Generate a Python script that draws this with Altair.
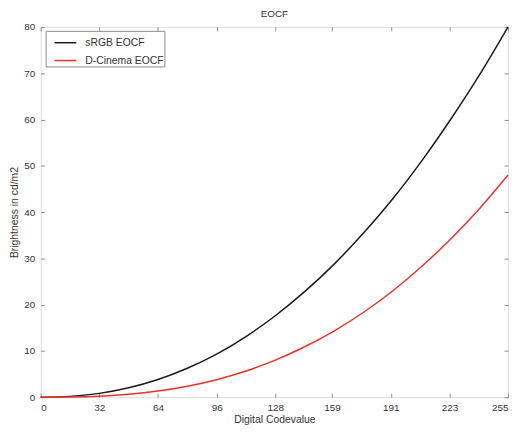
import altair as alt
import pandas as pd

codevalue = [0, 16, 32, 48, 64, 80, 96, 112, 128, 144, 160, 176, 192, 208, 224, 240, 255]
srgb = [0.0, 0.18, 0.83, 2.03, 3.82, 6.25, 9.3, 13.1, 17.6, 22.8, 28.7, 35.4, 42.8, 51.1, 60.2, 70.0, 80.0]
dcinema = [0.0, 0.04, 0.22, 0.62, 1.32, 2.36, 3.78, 5.65, 8.0, 10.9, 14.3, 18.3, 22.95, 28.3, 34.3, 41.0, 48.0]
series_names = ["sRGB EOCF", "D-Cinema EOCF"]
series_colors = ["#1a1a1a", "#e8322b"]
x_ticks = [0, 32, 64, 96, 128, 159, 191, 223, 255]
y_ticks = [0, 10, 20, 30, 40, 50, 60, 70, 80]

rows = []
for c, a, b in zip(codevalue, srgb, dcinema):
    rows.append({"code": c, "value": a, "series": series_names[0]})
    rows.append({"code": c, "value": b, "series": series_names[1]})
df = pd.DataFrame(rows)

FONT = "Liberation Sans"
TXT = "#333333"
AX = "#8a8a8a"

common_axis = dict(
    domain=False, tickColor=AX, tickSize=4, offset=-4, grid=False,
    labelFont=FONT, labelFontSize=10, labelColor=TXT,
    titleFont=FONT, titleFontSize=10.5, titleColor=TXT, titleFontWeight="normal",
)

xs = alt.Scale(domain=[0, 255], nice=False, zero=False)
ys = alt.Scale(domain=[0, 80], nice=False)
cs = alt.Scale(domain=series_names, range=series_colors)

lines = alt.Chart(df).mark_line(strokeWidth=1.5, interpolate="monotone").encode(
    x=alt.X("code:Q", scale=xs,
            axis=alt.Axis(values=x_ticks, title="Digital Codevalue", orient="bottom",
                          labelPadding=5, titlePadding=3, **common_axis)),
    y=alt.Y("value:Q", scale=ys,
            axis=alt.Axis(values=y_ticks, title="Brightness in cd/m2", orient="left",
                          labelPadding=6, titlePadding=4, **common_axis)),
    color=alt.Color("series:N", scale=cs, sort=series_names,
                    legend=alt.Legend(title=None, orient="none", legendX=5, legendY=4,
                                      symbolType="stroke", symbolSize=484, symbolStrokeWidth=1.5,
                                      symbolOffset=8, labelOffset=8,
                                      labelExpr="datum.label + '\u00a0\u00a0\u00a0'",
                                      labelFont=FONT, labelFontSize=10.5, labelColor=TXT,
                                      padding=0, rowPadding=-12,
                                      strokeColor=AX, fillColor="white")),
)

frame = alt.Chart(df).mark_line(opacity=0).encode(
    x=alt.X("code:Q", scale=xs,
            axis=alt.Axis(values=x_ticks, title=None, orient="top", labels=False, **common_axis)),
    y=alt.Y("value:Q", scale=ys,
            axis=alt.Axis(values=y_ticks, title=None, orient="right", labels=False, **common_axis)),
    detail="series:N",
)

chart = alt.layer(lines, frame).resolve_axis(x="independent", y="independent").properties(
    width=472, height=374,
    title=alt.TitleParams("EOCF", font=FONT, fontSize=10, color=TXT, fontWeight="normal", offset=3),
    autosize=alt.AutoSizeParams(type="none"),
    padding={"left": 33, "top": 17, "right": 6, "bottom": 26},
).configure_view(stroke=AX, strokeWidth=1).configure(background="white")

chart.save("out.html", embed_options={"renderer": "svg", "actions": False})
